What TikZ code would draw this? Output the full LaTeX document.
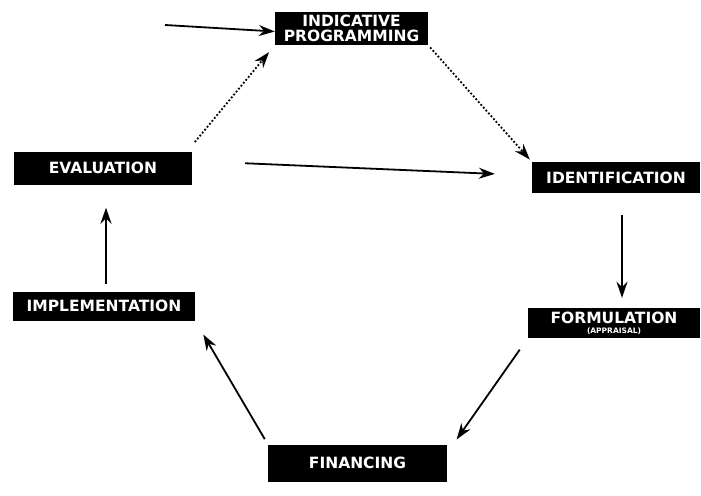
\documentclass[tikz,border=0pt]{standalone}
\usepackage{fontspec}
\setmainfont{DejaVu Sans}
\usetikzlibrary{arrows.meta}
\tikzset{
  stage/.style={fill=black,text=white,inner sep=0pt,align=center,
    font=\fontsize{15.5}{14.5}\selectfont\bfseries},
  flow/.style={line width=1.8pt,-{Stealth[length=16pt,width=11pt]}},
  loose/.style={flow,dotted}
}
\begin{document}
\begin{tikzpicture}[x=1pt,y=-1pt]
\useasboundingbox (0,0) rectangle (701,495);
% stages of the cycle
\node[stage,minimum width=153pt,minimum height=33pt] (prog) at (351.5,28.5) {INDICATIVE\\PROGRAMMING};
\node[stage,minimum width=178pt,minimum height=33pt] (eval) at (103,168) {EVALUATION};
\node[stage,minimum width=168pt,minimum height=31pt] (ident) at (616,177.5) {IDENTIFICATION};
\node[stage,minimum width=172pt,minimum height=30pt] (form) at (614,323) {FORMULATION\\[-4pt]{\fontsize{7.5}{7.5}\selectfont (APPRAISAL)}};
\node[stage,minimum width=179pt,minimum height=37pt] (fin) at (357.5,463) {FINANCING};
\node[stage,minimum width=182pt,minimum height=29pt] (impl) at (104,306) {IMPLEMENTATION};
\coordinate (in) at (165,25);
% connectors
\draw[flow] (in) -- ([yshift=-3]prog.west);
\draw[loose,shorten <=12pt,shorten >=9pt] ([xshift=-5]eval.north east) -- ([yshift=0]prog.south west);
\draw[loose,shorten <=3pt,shorten >=3pt] (prog.south east) -- (ident.north west);
\draw[flow,shorten <=53pt,shorten >=37pt] ([yshift=7]eval.east) -- ([yshift=2]ident.west);
\draw[flow,shorten <=22pt,shorten >=10pt] ([xshift=6]ident.south) -- ([xshift=8]form.north);
\draw[flow,shorten <=14pt,shorten >=6pt] (form.south west) -- ([xshift=6]fin.north east);
\draw[flow,shorten <=6pt,shorten >=16pt] (fin.north west) -- (impl.south east);
\draw[flow,shorten <=7pt,shorten >=23pt] ([xshift=2]impl.north) -- ([xshift=3]eval.south);
\end{tikzpicture}
\end{document}
